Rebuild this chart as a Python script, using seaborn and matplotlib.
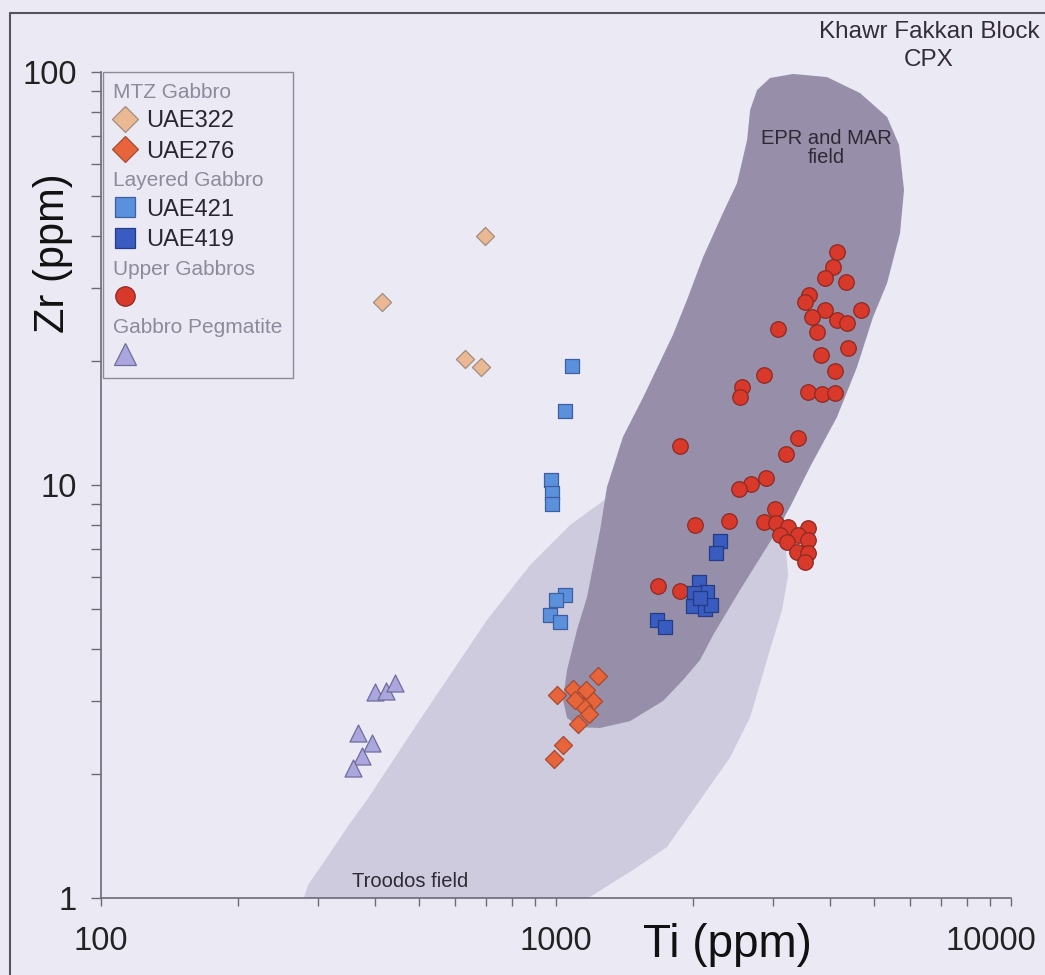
import numpy as np
import matplotlib
matplotlib.use("Agg")
import matplotlib.pyplot as plt
import matplotlib.transforms as mtransforms
from matplotlib.patches import Polygon
from matplotlib.lines import Line2D
from matplotlib.ticker import LogLocator, FuncFormatter, NullFormatter
import seaborn as sns

# Clinopyroxene Ti and Zr (ppm), Khawr Fakkan Block
uae322_ti = [698, 414, 631, 684]
uae322_zr = [40.1, 27.7, 20.2, 19.3]

uae276_ti = [1237, 1005, 1090, 1141, 1206, 1147, 1182, 1118, 1036, 990, 1101, 1164]
uae276_zr = [3.45, 3.10, 3.21, 3.07, 3.00, 2.92, 2.79, 2.64, 2.35, 2.17, 3.02, 3.19]

uae421_ti = [1084, 1047, 975, 980, 980, 1047, 1000, 970, 1020]
uae421_zr = [19.4, 15.1, 10.3, 9.56, 9.0, 5.42, 5.27, 4.84, 4.66]

uae419_ti = [2293, 2247, 2062, 2147, 2011, 2001, 2126, 2191, 2073, 1667, 1736]
uae419_zr = [7.32, 6.85, 5.82, 5.51, 5.48, 5.09, 5.01, 5.12, 5.33, 4.71, 4.53]

upper_ti = [4144, 4061, 3901, 4340, 3597, 3526, 3901, 4680, 3653, 4144, 4361,
            3076, 3747, 4383, 3823, 4103, 2865, 2564, 2538, 3580, 3843, 4103,
            3403, 3203, 2894, 2683, 2525, 1873, 2401, 2021, 3030, 2865, 3045,
            3236, 3580, 3107, 3403, 3580, 3219, 3385, 3580, 3526, 1676, 1873]
upper_zr = [36.7, 33.7, 31.7, 31.0, 28.8, 27.7, 26.5, 26.5, 25.5, 25.1, 24.7,
            23.9, 23.5, 21.5, 20.6, 18.9, 18.5, 17.3, 16.3, 16.8, 16.6, 16.7,
            13.0, 11.9, 10.4, 10.06, 9.78, 12.4, 8.18, 8.00, 8.75, 8.14, 8.09,
            7.91, 7.87, 7.57, 7.57, 7.36, 7.28, 6.88, 6.85, 6.51, 5.69, 5.54]

pegmatite_ti = [400, 423, 443, 367, 394, 375, 358]
pegmatite_zr = [3.15, 3.17, 3.32, 2.51, 2.37, 2.21, 2.06]

# Reference fields (outline vertices, Ti / Zr ppm)
troodos_ti = [274, 285, 311, 353, 384, 502, 705, 877, 1074, 1250, 1530, 1970,
              2538, 2953, 3187, 3236, 3138, 2953, 2670, 2413, 2073, 1754, 1476,
              1188, 1020]
troodos_zr = [0.935, 1.075, 1.236, 1.52, 1.727, 2.70, 4.71, 6.40, 8.00, 9.04,
              10.6, 11.5, 10.9, 9.20, 7.36, 6.05, 4.98, 3.99, 2.74, 2.19,
              1.727, 1.329, 1.169, 1.006, 0.91]

epr_ti = [2766, 2953, 3319, 3940, 4657, 5340, 5673, 5818, 5702, 5340, 4974,
          4587, 4144, 3615, 3268, 2999, 2538, 2214, 2073, 1901, 1719, 1454,
          1250, 1129, 1057, 1036, 1057, 1112, 1170, 1250, 1294, 1404, 1554,
          1807, 1941, 2104, 2328, 2499, 2630, 2670]
epr_zr = [90.4, 96.7, 98.9, 97.2, 88.9, 77.8, 66.6, 51.8, 40.7, 30.8, 25.5,
          19.3, 14.6, 11.05, 8.84, 7.48, 5.57, 4.33, 3.77, 3.37, 3.00, 2.68,
          2.58, 2.59, 2.73, 3.02, 3.56, 4.46, 5.36, 7.78, 9.89, 13.1, 16.3,
          23.1, 28.1, 35.6, 45.6, 53.8, 68.5, 80.9]

legend_labels = ["MTZ Gabbro", "UAE322", "UAE276", "Layered Gabbro", "UAE421",
                 "UAE419", "Upper Gabbros", " ", "Gabbro Pegmatite", " "]

sns.set_theme(style="ticks")
plt.rcParams["font.family"] = ["Liberation Sans", "DejaVu Sans"]

bg = "#ebeaf4"
axis_col = "#6c6a78"
text_dark = "#2a2530"

fig = plt.figure(figsize=(10.45, 9.75), dpi=100, facecolor=bg)
ax = fig.add_axes([0.0967, 0.0790, 0.8708, 0.8472])
ax.set_facecolor(bg)
ax.set_xscale("log")
ax.set_yscale("log")
ax.set_xlim(100, 10000)
ax.set_ylim(1, 100)

# fields
ax.add_patch(Polygon(np.column_stack([troodos_ti, troodos_zr]), closed=True,
                     facecolor="#cecbdf", edgecolor="none", zorder=0.5))
ax.add_patch(Polygon(np.column_stack([epr_ti, epr_zr]), closed=True,
                     facecolor="#978fa9", edgecolor="none", zorder=0.6))

# samples
styles = {
    "upper": dict(marker="o", s=125, color="#d8392b", edgecolor="#8c2a22"),
    "uae419": dict(marker="s", s=100, color="#3a5cc0", edgecolor="#243c86"),
    "uae421": dict(marker="s", s=100, color="#5b90dc", edgecolor="#3d5f9e"),
    "uae276": dict(marker="D", s=85, color="#e8653c", edgecolor="#a54a30"),
    "uae322": dict(marker="D", s=85, color="#eab892", edgecolor="#a08c80"),
    "pegm": dict(marker="^", s=150, color="#aba7de", edgecolor="#6e6c9c"),
}
series = [("upper", upper_ti, upper_zr), ("uae419", uae419_ti, uae419_zr),
          ("uae421", uae421_ti, uae421_zr), ("uae276", uae276_ti, uae276_zr),
          ("uae322", uae322_ti, uae322_zr), ("pegm", pegmatite_ti, pegmatite_zr)]
for key, xs, ys in series:
    st = styles[key]
    sns.scatterplot(x=xs, y=ys, ax=ax, marker=st["marker"], s=st["s"],
                    color=st["color"], edgecolor=st["edgecolor"], linewidth=0.9,
                    zorder=3, legend=False)

# axes styling
sns.despine(ax=ax)
for side in ("left", "bottom"):
    ax.spines[side].set_color(axis_col)
    ax.spines[side].set_linewidth(1.2)

for axis in (ax.xaxis, ax.yaxis):
    axis.set_major_locator(LogLocator(base=10, numticks=10))
    axis.set_minor_locator(LogLocator(base=10, subs=np.arange(2, 10), numticks=10))
    axis.set_major_formatter(FuncFormatter(lambda v, p: f"{v:g}"))
    axis.set_minor_formatter(NullFormatter())

ax.tick_params(which="both", direction="out", color=axis_col, width=1.0,
               labelcolor="#222222", labelsize=23.5)
ax.tick_params(axis="y", which="both", length=7.5, pad=10)
ax.tick_params(axis="x", which="both", length=6, pad=14)

fig.canvas.draw()
shift = mtransforms.ScaledTranslation(-0.20, 0, fig.dpi_scale_trans)
for lab in ax.xaxis.get_majorticklabels():
    if lab.get_text() == "10000":
        lab.set_transform(lab.get_transform() + shift)

ax.set_xlabel("Ti (ppm)", fontsize=33, color="#111111")
ax.xaxis.set_label_coords(0.688, -0.057)
ax.xaxis.label.set_va("center")
ax.set_ylabel("Zr (ppm)", fontsize=30, color="#111111")
ax.yaxis.set_label_coords(-0.0527, 0.781)
ax.yaxis.label.set_va("center")
ax.yaxis.label.set_ha("center")

# field labels
ax.text(3922, 65.5, "EPR and MAR\nfield", ha="center", va="center",
        fontsize=14.5, color="#2e2934", linespacing=1.0, zorder=4)
ax.text(356, 1.094, "Troodos field", ha="left", va="center",
        fontsize=14.5, color="#2e2934", zorder=4)
fig.text(929 / 1045, 1 - 46 / 975, "Khawr Fakkan Block\nCPX", ha="center",
         va="center", fontsize=17.5, color="#332d3a", linespacing=1.35)

# legend
def handle(key, size):
    st = styles[key]
    return Line2D([], [], linestyle="none", marker=st["marker"], markersize=size,
                  markerfacecolor=st["color"], markeredgecolor=st["edgecolor"],
                  markeredgewidth=0.9)

blank = Line2D([], [], linestyle="none")
handles = [blank, handle("uae322", 13.5), handle("uae276", 13.5), blank,
           handle("uae421", 14), handle("uae419", 14), blank,
           handle("upper", 14), blank, handle("pegm", 16)]
is_header = [True, False, False, True, False, False, True, False, True, False]

leg = ax.legend(handles, legend_labels, loc="upper left",
                bbox_to_anchor=(0.002, 1.0), borderaxespad=0, fontsize=17,
                frameon=True, fancybox=False, framealpha=1, facecolor=bg,
                edgecolor="#8c8a98", handlelength=1.0, handletextpad=0.4,
                labelspacing=0.36, borderpad=0.45)
leg.get_frame().set_linewidth(1.0)
leg.set_zorder(5)
for txt, head in zip(leg.get_texts(), is_header):
    if head:
        txt.set_color("#8d8a9a")
        txt.set_fontsize(15)
    else:
        txt.set_color(text_dark)

# header rows start at the left edge of the marker column
column = leg._legend_handle_box.get_children()[0]
for row, head in zip(column.get_children(), is_header):
    if head:
        row._children = [row._children[1]]

# page frame
fig.add_artist(Line2D([9.5 / 1045, 9.5 / 1045], [0, 1 - 13 / 975],
                      transform=fig.transFigure, color="#55535e", linewidth=1.5))
fig.add_artist(Line2D([9.5 / 1045, 1], [1 - 13 / 975, 1 - 13 / 975],
                      transform=fig.transFigure, color="#55535e", linewidth=1.5))

fig.savefig("out.png", dpi=100, facecolor=bg)
